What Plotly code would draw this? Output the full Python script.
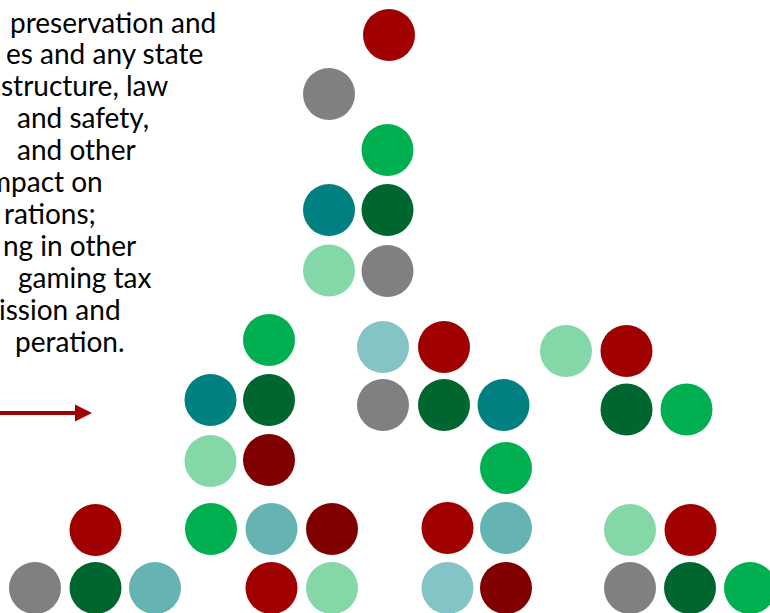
import plotly.graph_objects as go

# Circle data: (x, y, colour key) in the chart's unit space (0-770 x 0-613)
circle_x = [389, 329, 387.5, 329, 387.5, 329, 387.5,
            269, 210.5, 269, 210.5, 269, 211, 271.5, 332, 271.5, 332,
            95.5, 35, 95.5, 155,
            383, 444, 383, 444, 503.5, 506, 447.5, 506, 447.5, 506,
            566, 626.5, 626.5, 686.5,
            630, 690.5, 630, 690, 750]
circle_y = [35, 94, 150, 210, 210, 270.5, 271,
            340, 400, 400, 461, 460, 529, 529, 529, 588, 588,
            530, 588, 588, 588,
            347, 347, 405, 405, 405, 468, 528, 528, 588, 588,
            351, 351, 409.5, 409.5,
            530, 530, 588, 588, 588]
circle_kind = ["red", "gray", "green", "teal", "darkgreen", "lightgreen", "gray",
               "green", "teal", "darkgreen", "lightgreen", "darkred", "green", "lightteal", "darkred", "red", "lightgreen",
               "red", "gray", "darkgreen", "lightteal",
               "paleteal", "red", "gray", "darkgreen", "teal", "green", "red", "lightteal", "paleteal", "darkred",
               "lightgreen", "red", "darkgreen", "green",
               "lightgreen", "red", "gray", "darkgreen", "green"]

palette = {
    "red": "#A00000",
    "darkred": "#800000",
    "gray": "#808080",
    "green": "#00B050",
    "darkgreen": "#006630",
    "teal": "#008080",
    "lightteal": "#66B3B3",
    "paleteal": "#84C4C4",
    "lightgreen": "#84D8A8",
}

# Text fragments visible on the slide
text_lines = ["preservation and", "es and any state", "structure, law", "and safety,",
              "and other", "mpact on", "rations;", "ng in other", "gaming tax",
              "ission and", "peration."]
text_y = [22, 53, 85, 117, 149, 181, 213, 245, 277, 309, 341]
text_left = [8, None, None, 15, 15, None, None, None, 16, None, 13]
text_right = [225, 205, 170, 140, 128, 105, 98, 138, 146, 123, 117]

fig = go.Figure()
for kind, col in palette.items():
    xs = [x for x, k in zip(circle_x, circle_kind) if k == kind]
    ys = [y for y, k in zip(circle_y, circle_kind) if k == kind]
    fig.add_trace(go.Scatter(
        x=xs, y=ys, mode="markers",
        marker=dict(size=52, color=col, line=dict(width=0)),
        hoverinfo="skip", showlegend=False))

font = dict(family="Lato, 'Open Sans', sans-serif", size=28, color="#000000")
for t, y, l, r in zip(text_lines, text_y, text_left, text_right):
    if l is not None:
        fig.add_annotation(x=l, y=y, text=t, showarrow=False, xanchor="left",
                           yanchor="middle", font=font, xref="x", yref="y")
    else:
        fig.add_annotation(x=r, y=y, text=t, showarrow=False, xanchor="right",
                           yanchor="middle", font=font, xref="x", yref="y")

# comma tail of the line above
fig.add_annotation(x=228, y=-12, text=",", showarrow=False, xanchor="left",
                   yanchor="middle", font=font, xref="x", yref="y")

# arrow
fig.add_annotation(x=92, y=413, ax=-10, ay=413, xref="x", yref="y",
                   axref="x", ayref="y", text="", showarrow=True,
                   arrowhead=2, arrowsize=0.85, arrowwidth=4, arrowcolor="#A00000",
                   standoff=0, startstandoff=0)

fig.update_layout(
    width=770, height=613,
    margin=dict(l=0, r=0, t=0, b=0),
    paper_bgcolor="#FFFFFF", plot_bgcolor="#FFFFFF",
    xaxis=dict(range=[0, 770], visible=False, fixedrange=True),
    yaxis=dict(range=[613, 0], visible=False, fixedrange=True),
    showlegend=False,
)
fig.write_html("out.html", config={"displayModeBar": False},
               post_script="document.body.style.margin='0';document.body.style.overflow='hidden';")
